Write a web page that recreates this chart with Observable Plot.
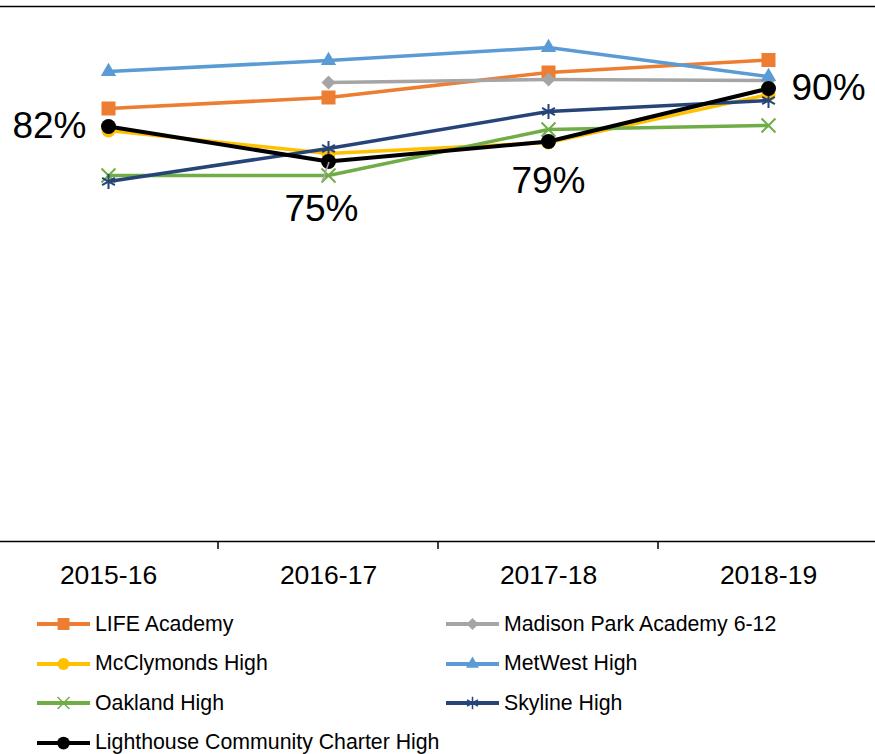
<!DOCTYPE html>
<html><head><meta charset="utf-8">
<script src="https://cdn.jsdelivr.net/npm/d3@7"></script>
<script src="https://cdn.jsdelivr.net/npm/@observablehq/plot@0.6"></script>
<style>
body{margin:0;background:#fff;font-family:"Liberation Sans",Arial,sans-serif;}
#chart{position:relative;width:875px;height:754px;overflow:hidden;background:#fff}
.item{position:absolute;height:40px;display:flex;align-items:center;font-size:21.3px;color:#000;white-space:nowrap}
.item svg{margin-right:5px;overflow:visible}
</style></head><body><div id="chart"></div>
<script>
// ---- data ----
const years = ["2015-16", "2016-17", "2017-18", "2018-19"];
const schools = ["LIFE Academy", "Madison Park Academy 6-12", "McClymonds High", "MetWest High", "Oakland High", "Skyline High", "Lighthouse Community Charter High"];
const lifeAcademy   = [86.0, 88.2, 93.2, 95.7];
const madisonPark   = [null, 91.2, 91.8, 91.6];
const mcclymonds    = [81.6, 77.0, 79.2, 88.8];
const metwest       = [93.4, 95.6, 98.2, 92.4];
const oaklandHigh   = [72.6, 72.6, 81.8, 82.6];
const skylineHigh   = [71.4, 78.0, 85.4, 87.6];
const lighthouse    = [82.4, 75.4, 79.4, 90.0];
const seriesValues = [lifeAcademy, madisonPark, mcclymonds, metwest, oaklandHigh, skylineHigh, lighthouse];

// ---- styles ----
const styles = {
  "LIFE Academy": {color: "#ED7D31", symbol: "square", r: 7.9, rotate: 0, stroked: false, w: 3.5},
  "Madison Park Academy 6-12": {color: "#A5A5A5", symbol: "square", r: 5.6, rotate: 45, stroked: false, w: 3.5},
  "McClymonds High": {color: "#FFC000", symbol: "circle", r: 7, rotate: 0, stroked: false, w: 3.5},
  "MetWest High": {color: "#5B9BD5", symbol: "triangle", r: 5.7, rotate: 0, stroked: false, w: 3.5},
  "Oakland High": {color: "#70AD47", symbol: "times", r: 6.4, rotate: 0, stroked: true, w: 3.5},
  "Skyline High": {color: "#264478", symbol: "asterisk", r: 7.0, rotate: 0, stroked: true, w: 3.5},
  "Lighthouse Community Charter High": {color: "#000000", symbol: "circle", r: 7.5, rotate: 0, stroked: false, w: 4}
};

const rows = [];
schools.forEach((s, i) => years.forEach((y, j) => rows.push({school: s, year: y, value: seriesValues[i][j]})));

const yDomain = [-0.6, 106.4];
const marks = [
  Plot.ruleY([yDomain[1]], {stroke: "#000", strokeWidth: 1.5}),
  Plot.ruleY([yDomain[0]], {stroke: "#000", strokeWidth: 1.5})
];
schools.forEach(s => {
  const st = styles[s];
  const data = rows.filter(d => d.school === s);
  marks.push(Plot.line(data, {x: "year", y: "value", stroke: st.color, strokeWidth: st.w, strokeLinejoin: "round"}));
  const dd = data.filter(d => d.value != null);
  if (st.stroked) {
    marks.push(Plot.dot(dd, {x: "year", y: "value", symbol: st.symbol, r: st.r, stroke: st.color, strokeWidth: 2, fill: "none"}));
  } else {
    marks.push(Plot.dot(dd, {x: "year", y: "value", symbol: st.symbol, r: st.r, rotate: st.rotate, fill: st.color, stroke: "none"}));
  }
});
const lh = rows.filter(d => d.school === schools[6]);
const fmt = d => Math.round(d.value) + "%";
const labelOpts = {x: "year", y: "value", text: fmt, fontSize: 37, fill: "#000", lineAnchor: "middle"};
marks.push(Plot.text([lh[0]], {...labelOpts, textAnchor: "end", dx: -22}));
marks.push(Plot.text([lh[1]], {...labelOpts, dx: -7, dy: 48}));
marks.push(Plot.text([lh[2]], {...labelOpts, dy: 40}));
marks.push(Plot.text([lh[3]], {...labelOpts, textAnchor: "start", dx: 23, dy: 0}));
marks.push(Plot.axisX({tickSize: 0, tickPadding: 24, fontSize: 26.5, fill: "#000"}));

const svg = Plot.plot({
  width: 875, height: 600,
  marginTop: 6, marginBottom: 59, marginLeft: 0, marginRight: 0,
  style: {fontFamily: "'Liberation Sans', Arial, sans-serif", fontSize: "26px", color: "#000", background: "#fff"},
  x: {type: "point", domain: years, range: [107, 769], padding: 0, label: null},
  y: {domain: yDomain, axis: null},
  marks
});

// boundary tick marks between categories, from the scales
const xs = svg.scale("x"), ys = svg.scale("y");
const y0 = ys.apply(yDomain[0]);
const g = d3.select(svg).append("g");
for (let i = 0; i < years.length - 1; i++) {
  const xm = (xs.apply(years[i]) + xs.apply(years[i + 1])) / 2;
  g.append("line").attr("x1", xm).attr("x2", xm).attr("y1", y0).attr("y2", y0 + 8).attr("stroke", "#000").attr("stroke-width", 1.5);
}
// leader line of the 75% label
const px = xs.apply(lh[1].year), py = ys.apply(lh[1].value);
g.append("line").attr("x1", px + 1).attr("y1", py + 1).attr("x2", px - 6).attr("y2", py + 21)
  .attr("stroke", "#A6A6A6").attr("stroke-width", 1.5);

const chart = document.getElementById("chart");
chart.appendChild(svg);
svg.style.position = "absolute"; svg.style.left = "0px"; svg.style.top = "0px";

// legend
const symMap = {square: d3.symbolSquare, circle: d3.symbolCircle, triangle: d3.symbolTriangle, times: d3.symbolTimes, asterisk: d3.symbolAsterisk};
schools.forEach((s, i) => {
  const st = styles[s];
  const col = i % 2, row = Math.floor(i / 2);
  const div = document.createElement("div");
  div.className = "item";
  div.style.left = (col === 0 ? 37 : 446) + "px";
  div.style.top = (604 + row * 39.5) + "px";
  const sw = d3.create("svg").attr("width", 53).attr("height", 14);
  sw.append("line").attr("x1", 0).attr("x2", 53).attr("y1", 7).attr("y2", 7).attr("stroke", st.color).attr("stroke-width", 4);
  const size = Math.PI * (st.r * 0.85) ** 2;
  const p = sw.append("path").attr("d", d3.symbol(symMap[st.symbol], size)())
    .attr("transform", `translate(26.5,7) rotate(${st.rotate})`);
  if (st.stroked) p.attr("fill", "none").attr("stroke", st.color).attr("stroke-width", 1.5);
  else p.attr("fill", st.color);
  div.appendChild(sw.node());
  const t = document.createElement("span");
  t.textContent = s;
  div.appendChild(t);
  chart.appendChild(div);
});
</script></body></html>
